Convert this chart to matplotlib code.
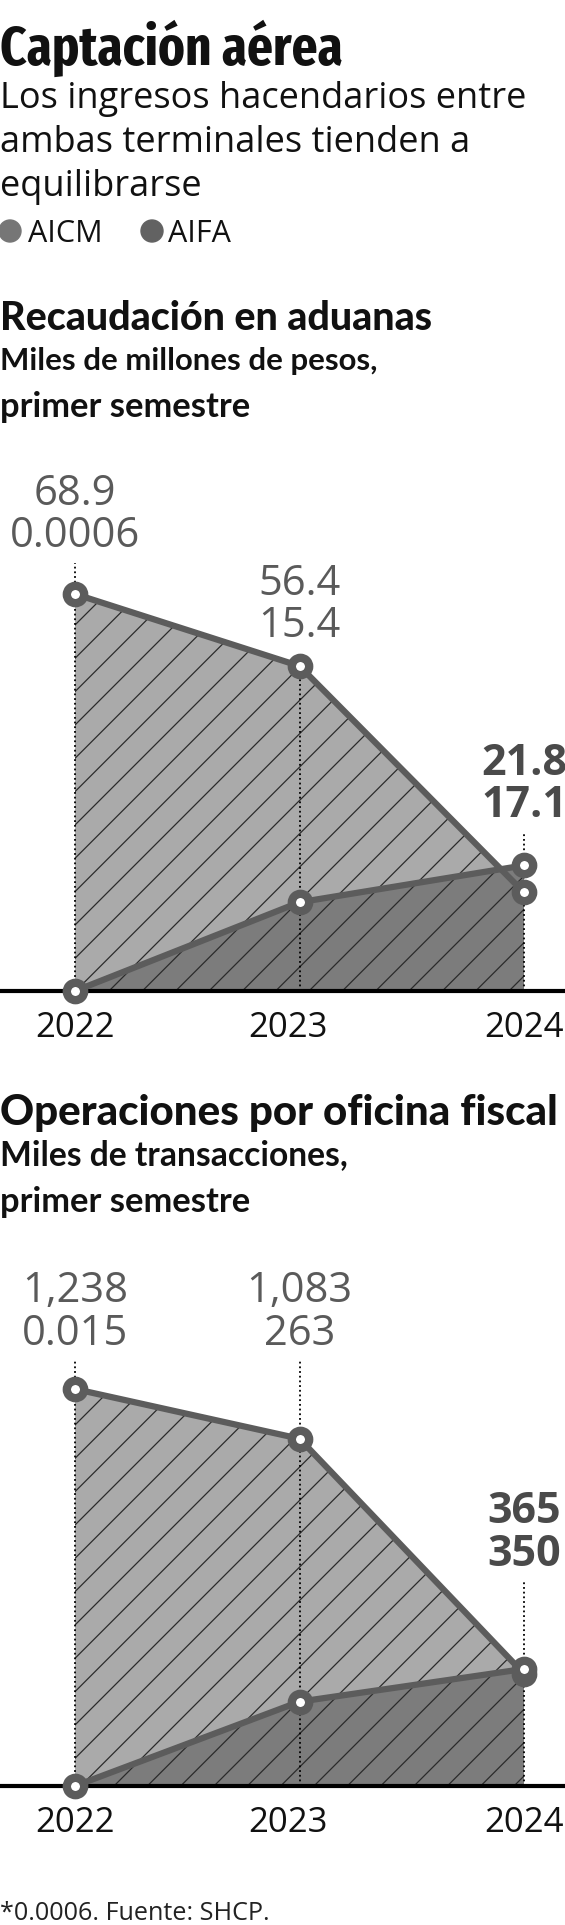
import os
import matplotlib
matplotlib.use('Agg')
import matplotlib.pyplot as plt
from matplotlib import font_manager as fm

plt.rcParams['hatch.linewidth'] = 0.9

# data
years = ['2022', '2023', '2024']
aduanas_aicm = [68.9, 56.4, 17.1]
aduanas_aifa = [0.0006, 15.4, 21.8]
oper_aicm = [1238, 1083, 350]
oper_aifa = [0.015, 263, 365]

W, H = 565, 1925
LIGHT = '#aaaaaa'
DARK = '#7c7c7c'
LINE = '#5c5c5c'
HATCH = '#2b2b2b'
NUM = 'Open Sans'


def fy(px):
    return 1 - px / H


def fmt(v):
    return f"{v:,.0f}" if v >= 1000 else f"{v:g}"


def find_condensed():
    # look for any installed condensed / narrow bold face for the headline
    best = None
    for f in fm.fontManager.ttflist:
        b = os.path.basename(f.fname).lower()
        if 'italic' in b or 'oblique' in b or 'semibold' in b:
            continue
        if ('condensed' in b or 'narrow' in b) and 'bold' in b and 'extrabold' not in b:
            rank = 0 if 'extracondensed' in b else (1 if 'semicondensed' not in b else 2)
            if best is None or rank < best[0]:
                best = (rank, f.fname)
    return best[1] if best else None


narrow = find_condensed()

fig = plt.figure(figsize=(W / 100, H / 100), dpi=100)
renderer = fig.canvas.get_renderer()


def fit(t, target):
    # scale the font size so the text spans the measured width
    w = t.get_window_extent(renderer).width
    t.set_fontsize(t.get_fontsize() * target / w)
    return t.get_fontsize()


# header
if narrow:
    title = fig.text(0, fy(65), 'Captación aérea', fontproperties=fm.FontProperties(fname=narrow),
                     fontsize=40, va='baseline', color='#111111')
    fit(title, 343)
else:
    title = fig.text(0, fy(64), 'Captación aérea', family='Roboto', weight='bold',
                     fontsize=40, va='baseline', color='#111111')
    fit(title, 420)

sub = ['Los ingresos hacendarios entre', 'ambas terminales tienden a', 'equilibrarse']
subs = [fig.text(0, fy(108 + 44 * i), s, family=NUM, fontsize=25, va='baseline',
                 color='#111111') for i, s in enumerate(sub)]
fs = fit(subs[0], 525)
for t in subs[1:]:
    t.set_fontsize(fs)

# legend
for xd, xt, name, col in [(10, 28, 'AICM', '#767676'), (152, 168, 'AIFA', '#626262')]:
    fig.patches.append(plt.Circle((xd / 100, (H - 231) / 100), 11 / 100,
                                  transform=fig.dpi_scale_trans, color=col))
    fig.text(xt / W, fy(242), name, family=NUM, fontsize=22, va='baseline',
             color='#111111')


def chart(B, title, unit, aicm, aifa, top_base, gap, widths):
    h = fig.text(0, fy(B - 661), title, family='Lato', weight='black', fontsize=28,
                 va='baseline', color='#111111')
    u1 = fig.text(0, fy(B - 621), unit, family='Lato', weight='bold', fontsize=22,
                  va='baseline', color='#111111')
    u2 = fig.text(0, fy(B - 574), 'primer semestre', family='Lato', weight='bold',
                  fontsize=22, va='baseline', color='#111111')
    for t, w in zip([h, u1, u2], widths):
        fit(t, w)

    ax = fig.add_axes([0, fy(B), 1, 540 / H])
    u = max(aicm) / 397
    ax.set_xlim(-75 / 224.5, (W - 75) / 224.5)
    ax.set_ylim(0, 540 * u)
    ax.axis('off')
    x = list(range(len(years)))

    ax.fill_between(x, 0, aicm, facecolor=LIGHT, edgecolor=HATCH, hatch='/',
                    linewidth=0, zorder=1)
    ax.fill_between(x, 0, aifa, facecolor=DARK, edgecolor=HATCH, hatch='/',
                    linewidth=0, zorder=2)
    ax.axhline(0, color='black', lw=3, zorder=3, clip_on=False)

    for i in x:
        vals = sorted([aicm[i], aifa[i]], reverse=True)
        bold = i == len(x) - 1
        for j, v in enumerate(vals):
            ax.text(i, (top_base[i] - gap * j) * u, fmt(v), ha='center', va='baseline',
                    family=NUM, fontsize=31 if bold else 30,
                    weight='bold' if bold else 'normal',
                    color='#4a4a4a' if bold else '#5a5a5a')
        ax.plot([i, i], [0, (top_base[i] - gap - 16) * u], color='black', lw=1.3,
                ls=(0, (1, 1.6)), zorder=3)
        ax.text(i - (0.05 if i == 1 else 0), -46 * u, years[i], ha='center',
                va='baseline', family=NUM, fontsize=25, color='#111111')

    for s, z in [(aicm, 4), (aifa, 5)]:
        ax.plot(x, s, color=LINE, lw=4.5, marker='o', ms=12.5, mew=6,
                mfc='white', mec=LINE, zorder=z, clip_on=False,
                solid_capstyle='round')


chart(991, 'Recaudación en aduanas', 'Miles de millones de pesos,',
      aduanas_aicm, aduanas_aifa, [486, 396, 216], 42, [433, 377, 250])
chart(1786, 'Operaciones por oficina fiscal', 'Miles de transacciones,',
      oper_aicm, oper_aifa, [484, 484, 263], 43, [558, 348, 250])

foot = fig.text(0, fy(1920), '*0.0006. Fuente: SHCP.', family=NUM, fontsize=22,
                va='baseline', color='#222222')
fit(foot, 268)

fig.savefig('out.png', dpi=100)
